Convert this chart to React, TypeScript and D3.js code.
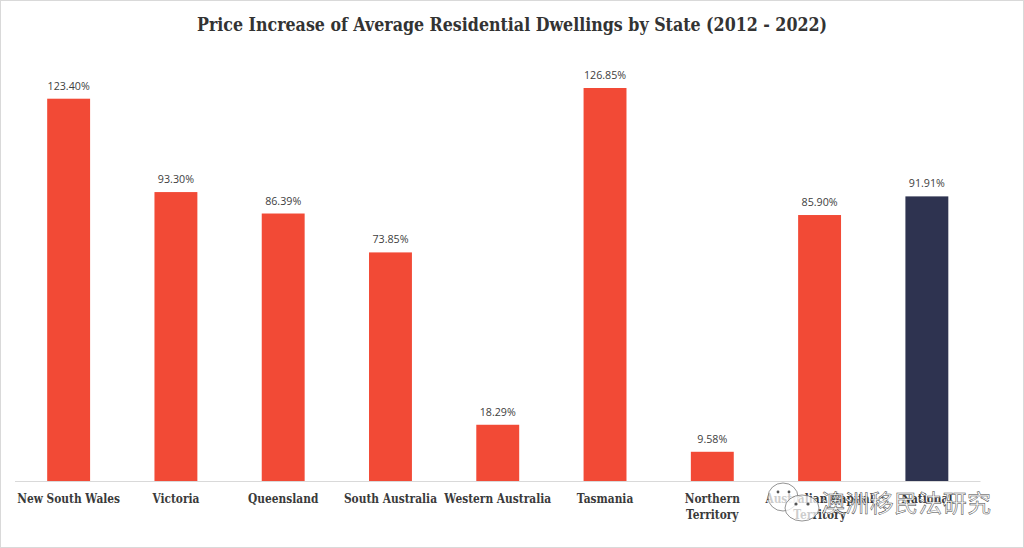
import React from "react";
import * as d3 from "d3";

const categories = ["New South Wales", "Victoria", "Queensland", "South Australia", "Western Australia", "Tasmania", "Northern Territory", "Australian Capital Territory", "National"];
const values = [123.4, 93.3, 86.39, 73.85, 18.29, 126.85, 9.58, 85.9, 91.91];
const labelLines = [["New South Wales"], ["Victoria"], ["Queensland"], ["South Australia"], ["Western Australia"], ["Tasmania"], ["Northern", "Territory"], ["Australian Capital", "Territory"], ["National"]];
const titleText = "Price Increase of Average Residential Dwellings by State (2012 - 2022)";
const watermarkText = "澳洲移民法研究";

const slab = "'DejaVu Serif', serif";
const sans = "'Open Sans', sans-serif";

export default function App() {
  const x = d3.scaleBand<string>().domain(categories).range([15, 980.5]).paddingInner(0.6).paddingOuter(0.3);
  const y = d3.scaleLinear().domain([0, 126.85]).range([481.5, 88]);
  return (
    <svg width={1024} height={548} viewBox="0 0 1024 548" style={{ position: "absolute", left: 0, top: 0, display: "block" }}>
      <rect x={0.5} y={0.5} width={1023} height={547} fill="#fff" stroke="#d9d9d9" />
      <text x={512} y={31} textAnchor="middle" fontFamily={slab} fontWeight={700} fontSize={19} fill="#333" textLength={630} lengthAdjust="spacingAndGlyphs">{titleText}</text>
      {categories.map((c, i) => (
        <g key={c}>
          <rect x={x(c)} y={y(values[i])} width={x.bandwidth()} height={y(0) - y(values[i])} fill={c === "National" ? "#2e3350" : "#f24a36"} />
          <text x={x(c)! + x.bandwidth() / 2} y={y(values[i]) - 9} textAnchor="middle" fontFamily={sans} fontSize={10.7} fill="#404040">{values[i].toFixed(2)}%</text>
          {labelLines[i].map((l, j) => (
            <text key={j} transform={`translate(${x(c)! + x.bandwidth() / 2},${503 + j * 16}) scale(0.865,1)`} textAnchor="middle" fontFamily={slab} fontWeight={700} fontSize={12.3} fill="#3a3a3a">{l}</text>
          ))}
        </g>
      ))}
      <line x1={15} x2={980.5} y1={481.5} y2={481.5} stroke="#d9d9d9" />
      <g fill="#fff" fillOpacity={0.75} stroke="#666" strokeWidth={0.7}>
        <ellipse cx={783} cy={497} rx={15} ry={14} />
        <ellipse cx={802} cy={508} rx={17} ry={13} />
      </g>
      <g fill="#555">
        <circle cx={778} cy={492} r={1.4} />
        <circle cx={789} cy={492} r={1.4} />
        <circle cx={796} cy={504} r={1.6} />
        <circle cx={808} cy={504} r={1.6} />
      </g>
      <text x={821} y={512} fontFamily="'Noto Sans CJK SC', sans-serif" fontSize={24} fill="#fff" stroke="#444" strokeWidth={0.5} textLength={170} lengthAdjust="spacing">{watermarkText}</text>
    </svg>
  );
}
